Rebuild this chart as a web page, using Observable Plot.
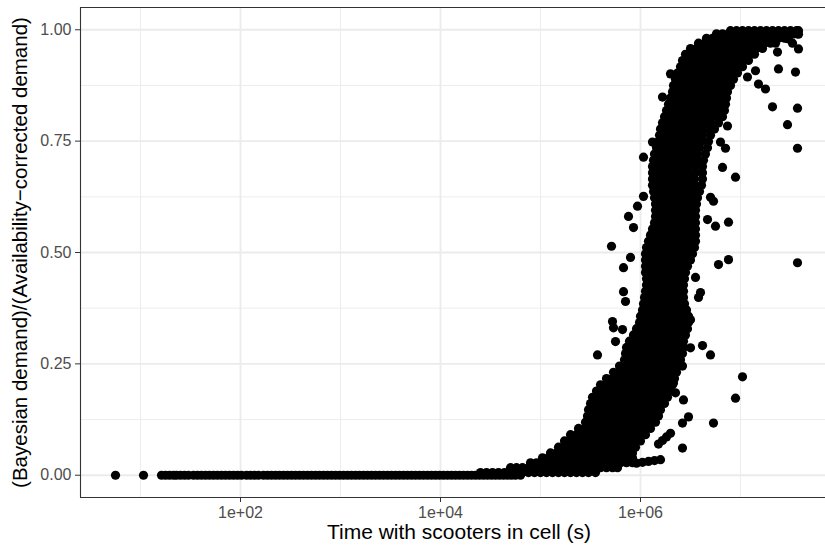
<!DOCTYPE html>
<html>
<head>
<meta charset="utf-8">
<script src="https://cdn.jsdelivr.net/npm/d3@7"></script>
<script src="https://cdn.jsdelivr.net/npm/@observablehq/plot@0.6"></script>
<style>
  body { margin: 0; background: #fff; }
  #chart svg { display: block; }
</style>
</head>
<body>
<div id="chart"></div>
<script>
// Times are stored as log10(seconds); ratio = Bayesian demand / availability-corrected demand.

// Cells whose ratio is essentially zero (short exposure times)
const zeroLogTimes = [0.75, 1.03,
  1.21, 1.25, 1.29, 1.33, 1.36, 1.40, 1.44, 1.48, 1.53, 1.57, 1.61, 1.65, 1.69, 1.73, 1.77, 1.81,
  1.85, 1.89, 1.93, 1.97, 2.01, 2.06, 2.10, 2.14, 2.18, 2.23, 2.27, 2.31, 2.35, 2.39, 2.43, 2.47,
  2.51, 2.55, 2.59, 2.63, 2.67, 2.71, 2.75, 2.79, 2.83, 2.87, 2.91, 2.95, 2.99, 3.03, 3.07, 3.11,
  3.15, 3.19, 3.23, 3.27, 3.31, 3.35, 3.39, 3.43, 3.47, 3.51, 3.55, 3.59, 3.63, 3.67, 3.71, 3.75,
  3.79, 3.83, 3.87, 3.91, 3.95, 3.99, 4.03, 4.07, 4.11, 4.15, 4.19, 4.23, 4.27, 4.31, 4.35, 4.39,
  4.43, 4.47, 4.51, 4.55, 4.59, 4.63, 4.67, 4.71, 4.75, 4.80];

// Rising part of the curve: [ratio, log10 times at that ratio]
const riseRows = [
  [0.006, [4.40, 4.46, 4.52, 4.58, 4.64, 4.70, 4.76, 4.82, 4.88, 4.94, 5.00, 5.06, 5.12, 5.18, 5.24, 5.30, 5.36, 5.42, 5.48, 5.55]],
  [0.017, [4.70, 4.76, 4.82, 4.88, 4.94, 5.00, 5.06, 5.12, 5.18, 5.24, 5.30, 5.36, 5.42, 5.48, 5.54, 5.60, 5.66, 5.72, 5.77]],
  [0.028, [4.90, 4.96, 5.02, 5.08, 5.14, 5.20, 5.26, 5.32, 5.38, 5.44, 5.50, 5.56, 5.62, 5.68, 5.74, 5.80, 5.86, 5.92]],
  [0.039, [5.02, 5.08, 5.14, 5.20, 5.26, 5.32, 5.38, 5.44, 5.50, 5.56, 5.62, 5.68, 5.74, 5.80, 5.86, 5.92]],
  [0.050, [5.10, 5.16, 5.22, 5.28, 5.34, 5.40, 5.46, 5.52, 5.58, 5.64, 5.70, 5.76, 5.82, 5.88, 5.92]],
  [0.063, [5.18, 5.24, 5.30, 5.36, 5.42, 5.48, 5.54, 5.60, 5.66, 5.72, 5.78, 5.84, 5.90, 5.95]],
  [0.077, [5.24, 5.30, 5.36, 5.42, 5.48, 5.54, 5.60, 5.66, 5.72, 5.78, 5.84, 5.90, 5.96, 6.00]],
  [0.091, [5.30, 5.36, 5.42, 5.48, 5.54, 5.60, 5.66, 5.72, 5.78, 5.84, 5.90, 5.96, 6.02, 6.05]],
  [0.105, [5.38, 5.44, 5.50, 5.56, 5.62, 5.68, 5.74, 5.80, 5.86, 5.92, 5.98, 6.04, 6.10]],
  [0.119, [5.45, 5.51, 5.57, 5.63, 5.69, 5.75, 5.81, 5.87, 5.93, 5.99, 6.05, 6.11, 6.15]],
  [0.133, [5.47, 5.53, 5.59, 5.65, 5.71, 5.77, 5.83, 5.89, 5.95, 6.01, 6.07, 6.13, 6.18]],
  [0.147, [5.48, 5.54, 5.60, 5.66, 5.72, 5.78, 5.84, 5.90, 5.96, 6.02, 6.08, 6.14, 6.20]],
  [0.161, [5.50, 5.56, 5.62, 5.68, 5.74, 5.80, 5.86, 5.92, 5.98, 6.04, 6.10, 6.16, 6.20, 6.24]],
  [0.175, [5.52, 5.58, 5.64, 5.70, 5.76, 5.82, 5.88, 5.94, 6.00, 6.06, 6.12, 6.18, 6.23, 6.27]],
  [0.189, [5.56, 5.62, 5.68, 5.74, 5.80, 5.86, 5.92, 5.98, 6.04, 6.10, 6.16, 6.22, 6.27, 6.30]],
  [0.203, [5.60, 5.66, 5.72, 5.78, 5.84, 5.90, 5.96, 6.02, 6.08, 6.14, 6.20, 6.26, 6.32]],
  [0.217, [5.66, 5.72, 5.78, 5.84, 5.90, 5.96, 6.02, 6.08, 6.14, 6.20, 6.26, 6.31, 6.34]],
  [0.231, [5.73, 5.79, 5.85, 5.91, 5.97, 6.03, 6.09, 6.15, 6.21, 6.27, 6.32, 6.36]],
  [0.245, [5.79, 5.85, 5.91, 5.97, 6.03, 6.09, 6.15, 6.21, 6.27, 6.33, 6.38]],
  [0.259, [5.84, 5.90, 5.96, 6.02, 6.08, 6.14, 6.20, 6.26, 6.32, 6.37, 6.40]],
  [0.273, [5.85, 5.91, 5.97, 6.03, 6.09, 6.15, 6.21, 6.27, 6.33, 6.38, 6.42]],
  [0.287, [5.86, 5.92, 5.98, 6.04, 6.10, 6.16, 6.22, 6.28, 6.34, 6.39, 6.43]],
  [0.301, [5.89, 5.95, 6.01, 6.07, 6.13, 6.19, 6.25, 6.31, 6.37, 6.43]],
  [0.315, [5.93, 5.99, 6.05, 6.11, 6.17, 6.23, 6.29, 6.35, 6.40, 6.45]],
  [0.329, [5.96, 6.02, 6.08, 6.14, 6.20, 6.26, 6.32, 6.38, 6.43, 6.47]],
  [0.343, [5.99, 6.05, 6.11, 6.17, 6.23, 6.29, 6.35, 6.41, 6.48]],
  [0.357, [6.00, 6.06, 6.12, 6.18, 6.24, 6.30, 6.36, 6.42, 6.48]],
  [0.371, [6.02, 6.08, 6.14, 6.20, 6.26, 6.32, 6.38, 6.42, 6.46]],
  [0.385, [6.03, 6.09, 6.15, 6.21, 6.27, 6.33, 6.39, 6.44]],
  [0.399, [6.04, 6.10, 6.16, 6.22, 6.28, 6.34, 6.39, 6.43]],
  [0.413, [6.05, 6.11, 6.17, 6.23, 6.29, 6.35, 6.39, 6.43]],
  [0.427, [6.06, 6.12, 6.18, 6.24, 6.30, 6.36, 6.40, 6.43]],
  [0.441, [6.06, 6.12, 6.18, 6.24, 6.30, 6.36, 6.40, 6.44]],
  [0.455, [6.05, 6.11, 6.17, 6.23, 6.29, 6.35, 6.41, 6.45]],
  [0.469, [6.05, 6.11, 6.17, 6.23, 6.29, 6.35, 6.41, 6.47]],
  [0.483, [6.05, 6.11, 6.17, 6.23, 6.29, 6.35, 6.41, 6.46, 6.50]],
  [0.497, [6.05, 6.11, 6.17, 6.23, 6.29, 6.35, 6.41, 6.47, 6.52]]
];

// Upper half of the curve
const upperRows = [
  [0.511, [6.06, 6.12, 6.18, 6.24, 6.30, 6.36, 6.42, 6.48, 6.54]],
  [0.525, [6.08, 6.14, 6.20, 6.26, 6.32, 6.38, 6.44, 6.50, 6.55]],
  [0.539, [6.10, 6.16, 6.22, 6.28, 6.34, 6.40, 6.46, 6.51, 6.55]],
  [0.553, [6.12, 6.18, 6.24, 6.30, 6.36, 6.42, 6.48, 6.55]],
  [0.567, [6.14, 6.20, 6.26, 6.32, 6.38, 6.44, 6.50, 6.55]],
  [0.581, [6.15, 6.21, 6.27, 6.33, 6.39, 6.45, 6.51, 6.55]],
  [0.595, [6.15, 6.21, 6.27, 6.33, 6.39, 6.45, 6.51, 6.55]],
  [0.609, [6.15, 6.21, 6.27, 6.33, 6.39, 6.45, 6.51, 6.56]],
  [0.623, [6.14, 6.20, 6.26, 6.32, 6.38, 6.44, 6.50, 6.57]],
  [0.637, [6.13, 6.19, 6.25, 6.31, 6.37, 6.43, 6.49, 6.55, 6.59]],
  [0.651, [6.12, 6.18, 6.24, 6.30, 6.36, 6.42, 6.48, 6.54, 6.61]],
  [0.665, [6.12, 6.18, 6.24, 6.30, 6.36, 6.42, 6.48, 6.54, 6.62]],
  [0.679, [6.12, 6.18, 6.24, 6.30, 6.36, 6.42, 6.48, 6.55, 6.62]],
  [0.693, [6.12, 6.18, 6.24, 6.30, 6.36, 6.42, 6.48, 6.55, 6.62]],
  [0.707, [6.13, 6.19, 6.25, 6.31, 6.37, 6.43, 6.49, 6.56, 6.63]],
  [0.721, [6.14, 6.20, 6.26, 6.32, 6.38, 6.44, 6.50, 6.57, 6.65]],
  [0.735, [6.16, 6.22, 6.28, 6.34, 6.40, 6.46, 6.52, 6.59, 6.67]],
  [0.749, [6.18, 6.24, 6.30, 6.36, 6.42, 6.48, 6.54, 6.61, 6.68]],
  [0.763, [6.19, 6.25, 6.31, 6.37, 6.43, 6.49, 6.55, 6.62, 6.70]],
  [0.777, [6.20, 6.26, 6.32, 6.38, 6.44, 6.50, 6.56, 6.62, 6.68, 6.74]],
  [0.791, [6.22, 6.28, 6.34, 6.40, 6.46, 6.52, 6.58, 6.64, 6.70, 6.78]],
  [0.805, [6.24, 6.30, 6.36, 6.42, 6.48, 6.54, 6.60, 6.66, 6.72, 6.78, 6.82]],
  [0.819, [6.26, 6.32, 6.38, 6.44, 6.50, 6.56, 6.62, 6.68, 6.74, 6.80, 6.84]],
  [0.833, [6.28, 6.34, 6.40, 6.46, 6.52, 6.58, 6.64, 6.70, 6.76, 6.81, 6.85]],
  [0.847, [6.30, 6.36, 6.42, 6.48, 6.54, 6.60, 6.66, 6.72, 6.78, 6.83, 6.86]],
  [0.861, [6.32, 6.38, 6.44, 6.50, 6.56, 6.62, 6.68, 6.74, 6.80, 6.87]],
  [0.875, [6.33, 6.39, 6.45, 6.51, 6.57, 6.63, 6.69, 6.75, 6.81, 6.86, 6.90]],
  [0.889, [6.35, 6.41, 6.47, 6.53, 6.59, 6.65, 6.71, 6.77, 6.83, 6.88, 6.93]],
  [0.903, [6.37, 6.43, 6.49, 6.55, 6.61, 6.67, 6.73, 6.79, 6.85, 6.91, 6.97]],
  [0.917, [6.40, 6.46, 6.52, 6.58, 6.64, 6.70, 6.76, 6.82, 6.88, 6.94, 7.00, 7.02]],
  [0.931, [6.42, 6.48, 6.54, 6.60, 6.66, 6.72, 6.78, 6.84, 6.90, 6.96, 7.02, 7.08]],
  [0.945, [6.45, 6.51, 6.57, 6.63, 6.69, 6.75, 6.81, 6.87, 6.93, 6.99, 7.05, 7.10, 7.14]],
  [0.958, [6.50, 6.56, 6.62, 6.68, 6.74, 6.80, 6.86, 6.92, 6.98, 7.04, 7.10, 7.16, 7.22]],
  [0.970, [6.58, 6.64, 6.70, 6.76, 6.82, 6.88, 6.94, 7.00, 7.06, 7.12, 7.18, 7.24, 7.30, 7.35]],
  [0.981, [6.66, 6.72, 6.78, 6.84, 6.90, 6.96, 7.02, 7.08, 7.14, 7.20, 7.26, 7.32, 7.38, 7.44, 7.48]],
  [0.991, [6.76, 6.82, 6.88, 6.94, 7.00, 7.06, 7.12, 7.18, 7.24, 7.30, 7.36, 7.42, 7.48, 7.54, 7.57]],
  [0.998, [6.90, 6.96, 7.02, 7.08, 7.14, 7.20, 7.26, 7.32, 7.38, 7.44, 7.50, 7.56, 7.58]]
];

// Scattered cells away from the main band: [log10 time, ratio]
const scatteredCells = [
  [5.96, 0.027], [6.02, 0.029], [6.08, 0.031], [6.14, 0.033], [6.20, 0.035],
  [6.18, 0.070], [6.22, 0.078], [6.26, 0.086], [6.30, 0.094],
  [5.71, 0.514], [5.57, 0.270], [5.72, 0.345], [5.73, 0.331], [5.82, 0.327], [5.75, 0.300],
  [5.83, 0.412], [5.85, 0.390], [5.90, 0.489], [5.83, 0.466], [5.88, 0.581], [5.97, 0.604],
  [5.93, 0.556], [6.03, 0.626], [6.03, 0.714], [6.12, 0.748], [6.22, 0.849], [6.30, 0.901],
  [6.78, 0.473], [6.88, 0.484], [6.55, 0.444], [6.60, 0.410], [6.58, 0.399], [6.50, 0.349],
  [6.50, 0.286], [6.62, 0.291], [6.70, 0.270],
  [7.47, 0.787], [7.57, 0.734], [6.87, 0.784], [6.80, 0.748], [6.85, 0.734], [6.82, 0.691],
  [6.95, 0.669], [6.70, 0.624], [6.73, 0.615], [6.67, 0.574], [6.88, 0.568], [6.75, 0.559],
  [7.37, 0.950], [7.38, 0.912], [7.55, 0.905], [7.32, 0.827], [7.57, 0.824], [7.58, 0.957],
  [7.58, 0.990], [7.07, 0.894], [7.15, 0.908], [7.18, 0.878], [7.25, 0.867],
  [7.47, 0.980], [7.52, 0.970], [7.57, 0.477],
  [6.42, 0.061], [6.42, 0.117], [6.48, 0.131], [6.43, 0.169], [6.33, 0.207], [6.35, 0.185],
  [6.42, 0.245], [6.73, 0.117], [7.02, 0.221], [6.95, 0.173]
];

// Axis ticks and labels
const xTicks = [1e2, 1e4, 1e6];
const xTickLabels = ["1e+02", "1e+04", "1e+06"];
const xMinorTicks = [1e1, 1e3, 1e5, 1e7];
const yTicks = [0, 0.25, 0.5, 0.75, 1];
const yTickLabels = ["0.00", "0.25", "0.50", "0.75", "1.00"];
const yMinorTicks = [0.125, 0.375, 0.625, 0.875];
const xTitle = "Time with scooters in cell (s)";
const yTitle = "(Bayesian demand)/(Availability\u2212corrected demand)";

// Build the point table
const cells = [];
for (const lt of zeroLogTimes) cells.push({time: 10 ** lt, ratio: 0});
for (const [ratio, lts] of [...riseRows, ...upperRows]) {
  for (const lt of lts) cells.push({time: 10 ** lt, ratio});
}
for (const [lt, ratio] of scatteredCells) cells.push({time: 10 ** lt, ratio});

const xDomain = [10 ** 0.4, 10 ** 7.85];
const yDomain = [-0.05, 1.05];
const grid = "#ebebeb";
const ink = "#333333";

const chart = Plot.plot({
  width: 825,
  height: 552,
  marginLeft: 80,
  marginTop: 7,
  marginBottom: 55,
  marginRight: 0,
  x: {type: "log", domain: xDomain},
  y: {domain: yDomain},
  style: {fontFamily: "'Liberation Sans', Arial, sans-serif", background: "#ffffff"},
  marks: [
    Plot.ruleX(xMinorTicks, {stroke: grid, strokeWidth: 0.9}),
    Plot.ruleY(yMinorTicks, {stroke: grid, strokeWidth: 0.9}),
    Plot.ruleX(xTicks, {stroke: grid, strokeWidth: 1.8}),
    Plot.ruleY(yTicks, {stroke: grid, strokeWidth: 1.8}),
    Plot.dot(cells, {x: "time", y: "ratio", r: 4.6, fill: "#000000", stroke: null}),
    Plot.ruleY([yDomain[0], yDomain[1]], {stroke: ink, strokeWidth: 1.1}),
    Plot.ruleX([xDomain[0]], {stroke: ink, strokeWidth: 1.1}),
    Plot.axisX({
      ticks: xTicks,
      tickFormat: (d) => xTickLabels[xTicks.indexOf(d)],
      tickSize: 5, tickPadding: 4, fontSize: 16,
      stroke: ink, fill: "#4d4d4d", label: null
    }),
    Plot.axisY({
      ticks: yTicks,
      tickFormat: (d) => yTickLabels[yTicks.indexOf(d)],
      tickSize: 5, tickPadding: 4, fontSize: 16,
      stroke: ink, fill: "#4d4d4d", label: null
    }),
    Plot.text([xTitle], {text: (d) => d, frameAnchor: "bottom", textAnchor: "middle", dx: 6, dy: 41, fontSize: 21, fill: "#000000"}),
    Plot.text([yTitle], {text: (d) => d, frameAnchor: "left", textAnchor: "middle", rotate: -90, dx: -60, fontSize: 20.5, fill: "#000000"})
  ]
});

document.getElementById("chart").appendChild(chart);
</script>
</body>
</html>
